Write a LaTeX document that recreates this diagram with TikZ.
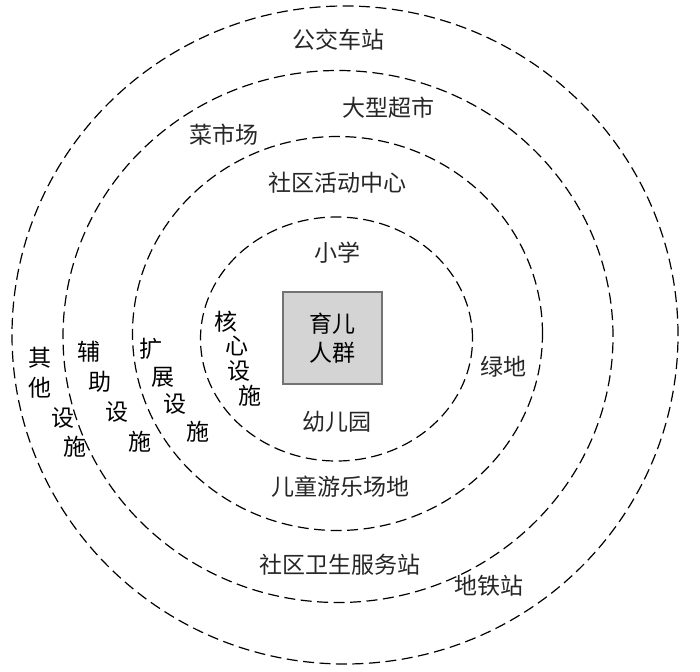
\documentclass[tikz,border=0pt]{standalone}
\usepackage{fontspec}
\newfontfamily\cjk{Noto Sans CJK SC}
\begin{document}
\begin{tikzpicture}[x=1pt,y=-1pt,
  ring/.style={draw=black, line width=1.2pt, dash pattern=on 11pt off 5.5pt},
  place/.style={font=\cjk\fontsize{23}{25}\selectfont, text=black!85, inner sep=0pt},
  group/.style={font=\cjk\fontsize{23}{25}\selectfont, text=black, inner sep=0pt},
  crowdbox/.style={draw=black!55, line width=1.6pt, fill=black!17, minimum width=99pt, minimum height=92pt, align=center, font=\cjk\fontsize{23}{29}\selectfont}
]
\useasboundingbox (0,0) rectangle (700,671);
% rings
\draw[ring] (345,335) ellipse [x radius=333pt, y radius=329pt];
\draw[ring] (338,336.5) ellipse [x radius=275pt, y radius=266pt];
\draw[ring] (337.5,333.5) ellipse [x radius=205pt, y radius=197pt];
\draw[ring] (336.5,339) ellipse [x radius=136pt, y radius=122pt];
% centre
\node[crowdbox] (crowd) at (332.5,338) {育儿\\人群};
% places
\node[place] (gj) at (338,40) {公交车站};
\node[place] (dx) at (388,108) {大型超市};
\node[place] (cs) at (224,135) {菜市场};
\node[place] (hd) at (337,183) {社区活动中心};
\node[place] (xx) at (337,253) {小学};
\node[place] (yey) at (337,422) {幼儿园};
\node[place] (ld) at (503,367) {绿地};
\node[place] (et) at (340,487) {儿童游乐场地};
\node[place] (ws) at (340,565) {社区卫生服务站};
\node[place] (dt) at (489,586) {地铁站};
% core
\node[group] (k1) at (226,322) {核};
\node[group] (k2) at (237,346) {心};
\node[group] (k3) at (239,371) {设};
\node[group] (k4) at (250,396) {施};
% extended
\node[group] (e1) at (151,349) {扩};
\node[group] (e2) at (163,377) {展};
\node[group] (e3) at (175,404) {设};
\node[group] (e4) at (198,432) {施};
% auxiliary
\node[group] (a1) at (89,352) {辅};
\node[group] (a2) at (100,382) {助};
\node[group] (a3) at (117,412) {设};
\node[group] (a4) at (140,442) {施};
% other
\node[group] (o1) at (40,358) {其};
\node[group] (o2) at (40,388) {他};
\node[group] (o3) at (63,418) {设};
\node[group] (o4) at (75,447) {施};
\end{tikzpicture}
\end{document}
